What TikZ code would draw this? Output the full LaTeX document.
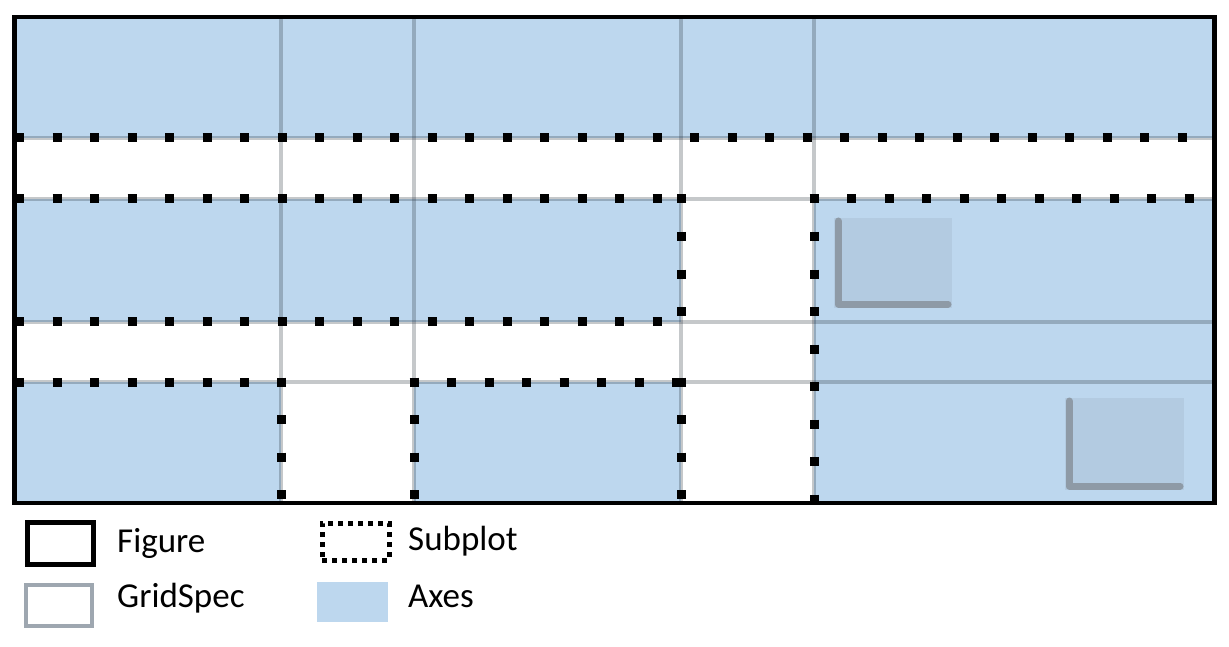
\documentclass[tikz,border=0pt]{standalone}
\usepackage{fontspec}
\setmainfont{Carlito}
\usetikzlibrary{positioning}
\definecolor{axesblue}{HTML}{BDD7EE}
\definecolor{gridgray}{RGB}{40,50,60}
\definecolor{insetfill}{HTML}{B3CBE1}
\definecolor{insetaxis}{HTML}{8E9AA6}
\definecolor{specgray}{HTML}{9EA7B0}
\tikzset{
    figframe/.style={draw=black, line width=4.5pt},
    axesbox/.style={fill=axesblue},
    gridline/.style={draw=gridgray, draw opacity=0.27, line width=4pt},
    subline/.style={draw=black, line width=9pt, dash pattern=on 9pt off 28.5pt},
    insetbox/.style={fill=insetfill},
    insetaxes/.style={draw=insetaxis, line width=7pt, line cap=round, line join=round},
    keybox/.style={minimum width=66pt, minimum height=42pt, inner sep=0pt, anchor=north west},
    keytext/.style={anchor=base west, inner sep=0pt, font=\fontsize{35}{40}\selectfont}
}

\begin{document}
\begin{tikzpicture}[x=1pt, y=-1pt]
\useasboundingbox (0,0) rectangle (1229,647);
% axes
\fill[axesbox] (14.5,17) rectangle (1214.5,138);
\fill[axesbox] (14.5,199) rectangle (681,321.5);
\fill[axesbox] (814,199) rectangle (1214.5,503);
\fill[axesbox] (14.5,382) rectangle (281,503);
\fill[axesbox] (414,382) rectangle (681,503);
% gridspec
\foreach \gx in {281,414,681,814}
    \draw[gridline] (\gx,17) -- (\gx,503);
\foreach \gy in {138,199,321.5,382}
    \draw[gridline] (14.5,\gy) -- (1214.5,\gy);
% inset axes
\fill[insetbox] (834,218) rectangle (952,308);
\draw[insetaxes] (838,221) -- (838,304) -- (948,304);
\fill[insetbox] (1065,398) rectangle (1184,490);
\draw[insetaxes] (1069,401) -- (1069,486) -- (1180,486);
% subplots
\draw[subline] (15,138) -- (1212,138);
\draw[subline] (15,199) -- (686,199);
\draw[subline] (15,321.5) -- (681,321.5);
\draw[subline] (681,194.5) -- (681,326);
\draw[subline] (809.5,199) -- (1212,199);
\draw[subline] (814,194.5) -- (814,503);
\draw[subline] (15,382) -- (281,382);
\draw[subline] (281,377.5) -- (281,503);
\draw[subline] (409.5,382) -- (686,382);
\draw[subline] (414,377.5) -- (414,503);
\draw[subline] (681,377.5) -- (681,503);
% figure
\draw[figframe] (14.5,17) rectangle (1214.5,503);
% legend
\node[keybox, draw=black, line width=5pt] (figkey) at (24.5,519.5) {};
\node[keytext] (figlabel) at (117,552) {Figure};
\node[keybox, draw=specgray, line width=4pt, minimum height=41pt] (speckey) at (24,582.5) {};
\node[keytext] (speclabel) at (117,607) {GridSpec};
\node[keybox, draw=black, line width=5pt, dash pattern=on 5pt off 5pt,
    minimum width=67pt, minimum height=37pt] (subkey) at (319.5,520.5) {};
\node[keytext] (sublabel) at (408,550) {Subplot};
\node[keybox, fill=axesblue, minimum width=71pt, minimum height=40pt] (axkey) at (317,582) {};
\node[keytext] (axlabel) at (408,607) {Axes};
\end{tikzpicture}
\end{document}
